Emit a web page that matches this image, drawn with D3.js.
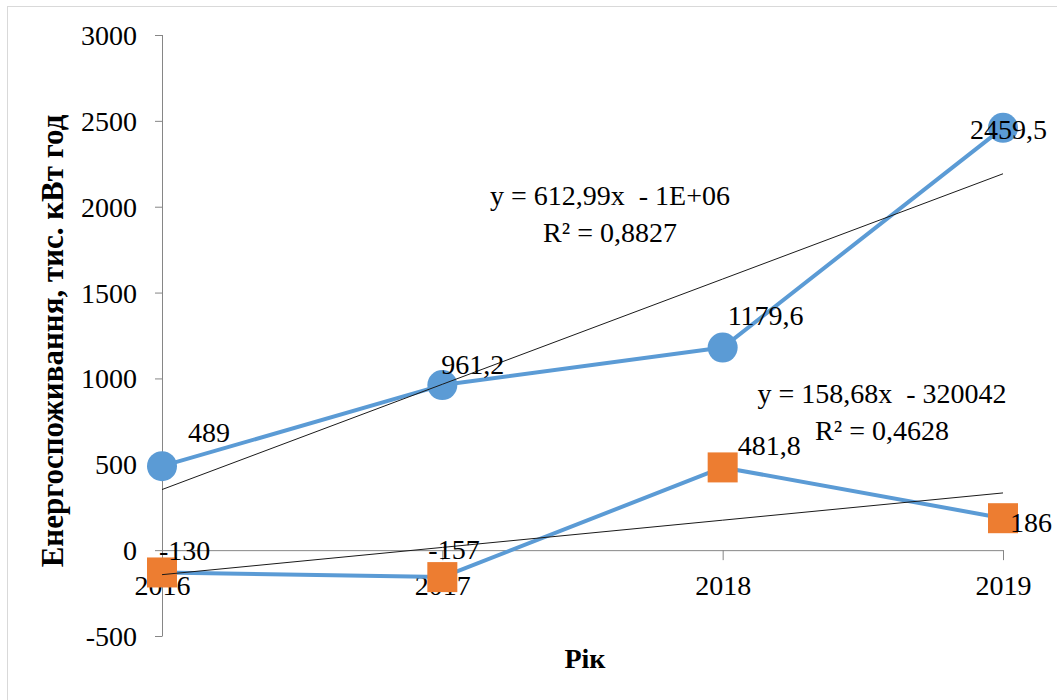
<!DOCTYPE html>
<html>
<head>
<meta charset="utf-8">
<script src="https://cdn.jsdelivr.net/npm/d3@7"></script>
<style>
  body { margin: 0; background: #fff; }
  svg text { font-family: "Liberation Serif", "DejaVu Serif", serif !important; fill: #000; }
</style>
</head>
<body>
<svg id="chart" width="1057" height="700"></svg>
<script>
// data
var years = [2016, 2017, 2018, 2019];
var consumption = [489, 961.2, 1179.6, 2459.5];
var difference = [-130, -157, 481.8, 186];
var yTicks = [-500, 0, 500, 1000, 1500, 2000, 2500, 3000];
var consumptionLabels = ["489", "961,2", "1179,6", "2459,5"];
var differenceLabels = ["-130", "-157", "481,8", "186"];
var eq1 = ["y = 612,99x  - 1E+06", "R² = 0,8827"];
var eq2 = ["y = 158,68x  - 320042", "R² = 0,4628"];

// label nudges (pixels from the marker), like the manual moves in the original
var consumptionNudge = [[26, -34], [-1, -21], [5, -32], [-33, 2]];
var differenceNudge = [[-3, -22], [-14, -28], [15, -22], [7, 4]];

var svg = d3.select("#chart"),
    fontSize = 28;

svg.append("rect")
    .attr("x", 7.5).attr("y", 6.5)
    .attr("width", 1200).attr("height", 800)
    .attr("fill", "#fff")
    .attr("stroke", "#d9d9d9");

var x = d3.scalePoint().domain(years).range([162, 1003]),
    y = d3.scaleLinear().domain([-500, 3000]).range([636, 35]);

// y axis
var yAxis = svg.append("g")
    .attr("transform", "translate(162,0)")
    .call(d3.axisLeft(y).tickValues(yTicks).tickSize(7).tickPadding(18)
        .tickFormat(function (d) { return String(d); }));
yAxis.attr("font-family", null);
yAxis.selectAll("path, line").attr("stroke", "#868686");
yAxis.select(".domain").attr("d", "M0.5," + y(3000) + "V" + y(-500) + "M-7," + (y(3000) + 0.5) + "H0.5M-7," + (y(-500) + 0.5) + "H0.5");
yAxis.selectAll("text")
    .attr("font-size", fontSize)
    .attr("fill", "#000")
    .attr("x", -25)
    .attr("dy", "0.34em");

// x axis sits on zero
var xAxis = svg.append("g")
    .attr("transform", "translate(0," + y(0) + ")")
    .call(d3.axisBottom(x).tickSize(10).tickSizeOuter(0));
xAxis.attr("font-family", null);
xAxis.selectAll("path, line").attr("stroke", "#868686");
xAxis.selectAll("text")
    .attr("font-size", fontSize)
    .attr("fill", "#000")
    .attr("y", 595 - y(0))
    .attr("dy", 0);

// axis titles
svg.append("text")
    .attr("transform", "translate(63,341) rotate(-90)")
    .attr("text-anchor", "middle")
    .attr("font-size", 31)
    .attr("font-weight", "bold")
    .text("Енергоспоживання, тис. кВт год");

svg.append("text")
    .attr("x", 585).attr("y", 668)
    .attr("text-anchor", "middle")
    .attr("font-size", fontSize)
    .attr("font-weight", "bold")
    .text("Рік");

var line = d3.line()
    .x(function (d, i) { return x(years[i]); })
    .y(function (d) { return y(d); });

// least squares trend, same as the spreadsheet's linear trendline
function trend(vals) {
    var mx = d3.mean(years), my = d3.mean(vals);
    var num = d3.sum(years, function (yr, i) { return (yr - mx) * (vals[i] - my); });
    var den = d3.sum(years, function (yr) { return (yr - mx) * (yr - mx); });
    var k = num / den;
    return years.map(function (yr) { return my + k * (yr - mx); });
}

[consumption, difference].forEach(function (s) {
    svg.append("path")
        .datum(s)
        .attr("d", line)
        .attr("fill", "none")
        .attr("stroke", "#5b9bd5")
        .attr("stroke-width", 4)
        .attr("stroke-linejoin", "round");
});

svg.selectAll(".dot")
    .data(consumption)
    .enter().append("circle")
    .attr("cx", function (d, i) { return x(years[i]); })
    .attr("cy", function (d) { return y(d); })
    .attr("r", 15)
    .attr("fill", "#5b9bd5");

svg.selectAll(".sq")
    .data(difference)
    .enter().append("rect")
    .attr("x", function (d, i) { return x(years[i]) - 15; })
    .attr("y", function (d) { return y(d) - 15; })
    .attr("width", 30).attr("height", 30)
    .attr("fill", "#ed7d31");

// trendlines on top of markers
[trend(consumption), trend(difference)].forEach(function (t) {
    svg.append("path")
        .datum(t)
        .attr("d", line)
        .attr("fill", "none")
        .attr("stroke", "#1a1a1a")
        .attr("stroke-width", 1);
});

function labels(vals, txt, nudge) {
    svg.append("g").selectAll("text")
        .data(vals)
        .enter().append("text")
        .attr("x", function (d, i) { return x(years[i]) + nudge[i][0]; })
        .attr("y", function (d, i) { return y(d) + nudge[i][1]; })
        .attr("dy", "0.34em")
        .attr("font-size", fontSize)
        .text(function (d, i) { return txt[i]; });
}
labels(consumption, consumptionLabels, consumptionNudge);
labels(difference, differenceLabels, differenceNudge);

function equation(lines, cx, by) {
    svg.append("g").selectAll("text")
        .data(lines)
        .enter().append("text")
        .attr("x", cx)
        .attr("y", function (d, i) { return by + i * 37; })
        .attr("text-anchor", "middle")
        .attr("font-size", fontSize)
        .style("white-space", "pre")
        .text(function (d) { return d; });
}
equation(eq1, 610, 205);
equation(eq2, 882, 403);
</script>
</body>
</html>
